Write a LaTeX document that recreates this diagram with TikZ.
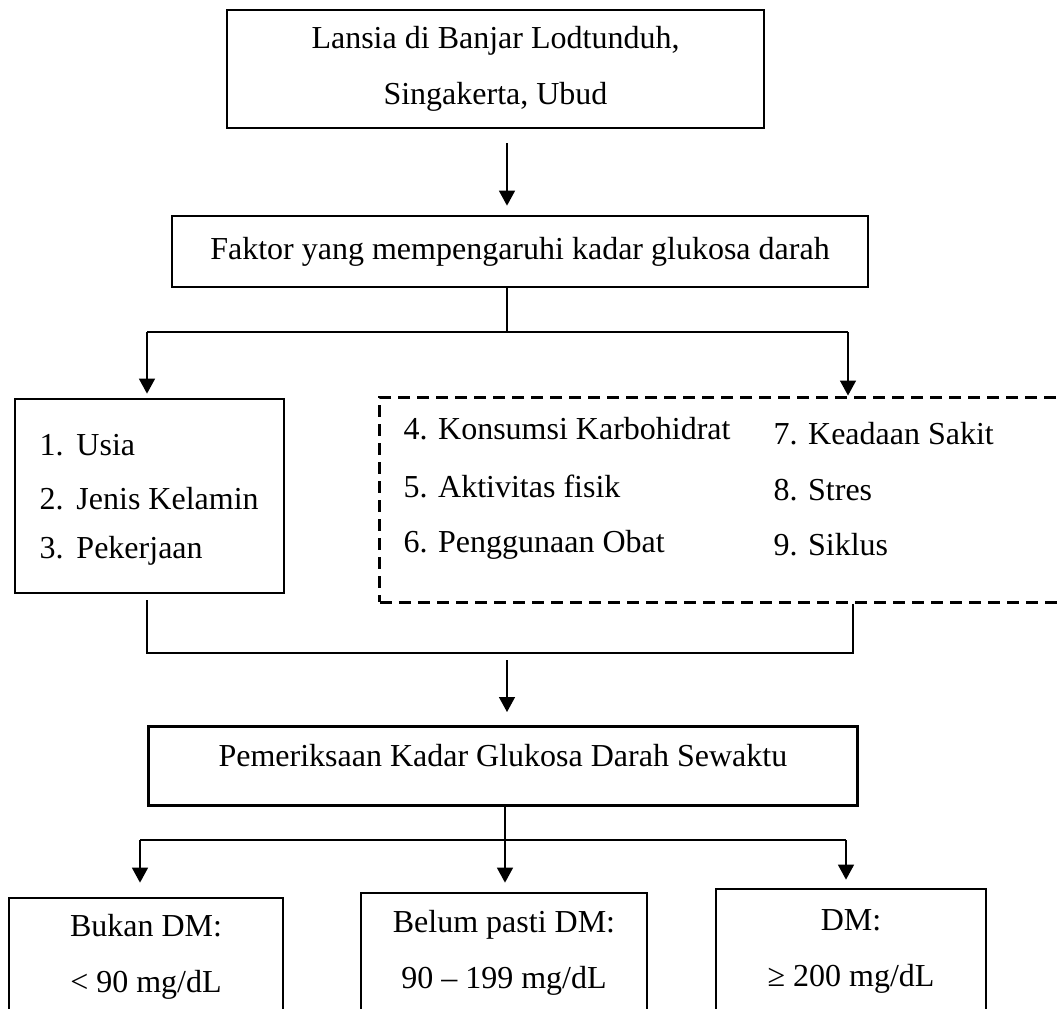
\documentclass[tikz,border=0pt]{standalone}
\usepackage{fontspec}
\setmainfont{Liberation Serif}
\usetikzlibrary{arrows.meta, positioning}
\tikzset{
    block/.style={rectangle, draw, line width=1.1pt, align=center, inner sep=0pt, font=\fontsize{12.8}{22.4}\selectfont},
    group/.style={rectangle, draw, line width=1.2pt, dash pattern=on 4.8pt off 2.8pt, inner sep=0pt},
    item/.style={anchor=base west, inner sep=0pt, font=\fontsize{12.8}{15}\selectfont},
    arrow/.style={line width=0.6pt, -{Triangle[length=6pt, width=6.4pt]}},
    line/.style={line width=0.6pt}
}

\begin{document}
\begin{tikzpicture}[x=0.4pt, y=-0.4pt]
    \useasboundingbox (0,0) rectangle (1060,1008);
    \clip (0,0) rectangle (1060,1008);

    % Main boxes
    \node (lansia) [block, minimum width=214.8pt, minimum height=47.2pt] at (495.5,69) {Lansia di Banjar Lodtunduh,\\Singakerta, Ubud};
    \node (faktor) [block, minimum width=278.4pt, minimum height=28.4pt] at (520,251.5) {Faktor yang mempengaruhi kadar glukosa darah};

    % Factor groups
    \node (usiabox) [block, minimum width=107.6pt, minimum height=77.6pt] at (149.5,496) {};
    \node (others) [group, minimum width=288pt, minimum height=82pt] at (740,499.5) {};

    \node (usia) [item] at (39,455) {\makebox[14.8pt][l]{1.}Usia};
    \node (kelamin) [item] at (39,509) {\makebox[14.8pt][l]{2.}Jenis Kelamin};
    \node (kerja) [item] at (39,558) {\makebox[14.8pt][l]{3.}Pekerjaan};

    \node (karbo) [item] at (403,439) {4. Konsumsi Karbohidrat};
    \node (fisik) [item] at (403,497) {5. Aktivitas fisik};
    \node (obat) [item] at (403,552) {6. Penggunaan Obat};
    \node (sakit) [item] at (773,444) {7. Keadaan Sakit};
    \node (stres) [item] at (773,500) {8. Stres};
    \node (siklus) [item] at (773,555) {9. Siklus};

    % Examination and results
    \node (periksa) [block, anchor=north west, minimum width=283.6pt, text height=16pt, text depth=15.6pt] at (147,725) {Pemeriksaan Kadar Glukosa Darah Sewaktu};
    \node (bukan) [block, minimum width=109.6pt, minimum height=47.2pt] at (146,957) {Bukan DM:\\< 90 mg/dL};
    \node (belum) [block, minimum width=114.4pt, minimum height=47.6pt] at (504,952.5) {Belum pasti DM:\\90 -- 199 mg/dL};
    \node (dm) [block, minimum width=108pt, minimum height=50pt] at (851,951.5) {DM:\\≥ 200 mg/dL};

    % Branch points
    \coordinate (mid) at (507,0);
    \coordinate (fork1) at (507,332);
    \coordinate (fork1L) at (147,332);
    \coordinate (fork1R) at (848,332);
    \coordinate (join) at (507,653);
    \coordinate (joinL) at (147,653);
    \coordinate (joinR) at (853,653);
    \coordinate (fork2) at (505,840);
    \coordinate (fork2L) at (140,840);
    \coordinate (fork2R) at (846,840);

    % Population to factors
    \draw [arrow, shorten <=5.6pt, shorten >=3.6pt] (lansia.south -| mid) -- (faktor.north -| mid);

    % Factors split
    \draw [line] (faktor.south -| fork1) -- (fork1);
    \draw [line] (fork1L) -- (fork1R);
    \draw [arrow, shorten >=1.6pt] (fork1L) -- (usiabox.north -| fork1L);
    \draw [arrow] (fork1R) -- (others.north -| fork1R);

    % Factors join
    \draw [line, shorten <=2.4pt] (usiabox.south -| joinL) -- (joinL) -- (joinR) -- (others.south -| joinR);
    \draw [arrow, shorten <=2.8pt, shorten >=5.2pt] (join) -- (periksa.north -| join);

    % Results split
    \draw [line] (periksa.south -| fork2) -- (fork2);
    \draw [line] (fork2L) -- (fork2R);
    \draw [arrow, shorten >=5.6pt] (fork2L) -- (bukan.north -| fork2L);
    \draw [arrow, shorten >=3.6pt] (fork2) -- (belum.north -| fork2);
    \draw [arrow, shorten >=3.2pt] (fork2R) -- (dm.north -| fork2R);

\end{tikzpicture}
\end{document}
